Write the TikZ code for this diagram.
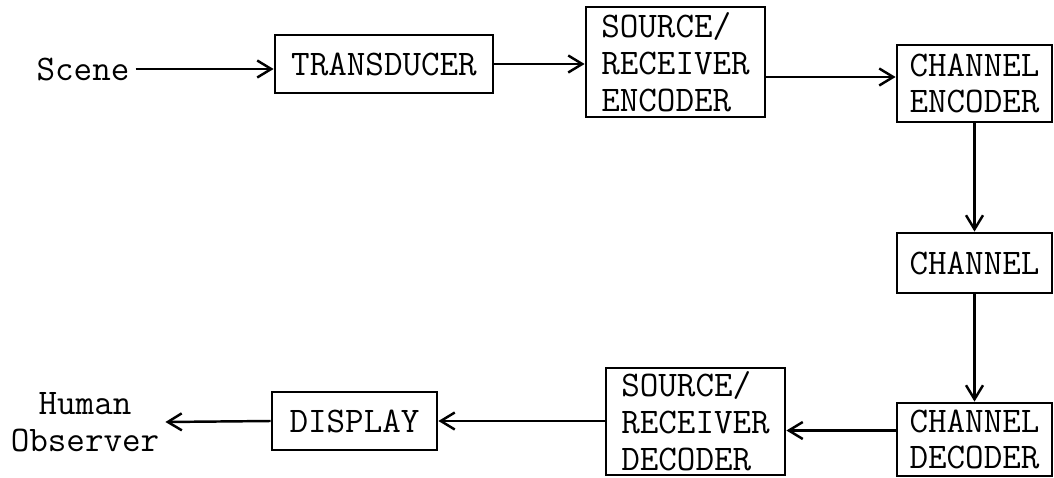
\documentclass[tikz,border=0pt]{standalone}
\usepackage{tikz}
\usetikzlibrary{arrows.meta,positioning,calc}

\begin{document}
\begin{tikzpicture}[
    font=\ttfamily\fontsize{20.5}{21}\selectfont,
    block/.style={draw,line width=1.6pt,align=left,inner sep=2pt,minimum width=#1},
    flow/.style={line width=1.4pt,-{Straight Barb[length=2.8mm,width=3.4mm,line width=1.4pt]}}
]
    \useasboundingbox (0,0) rectangle (21.08,-9.56);
    % upper row
    \node (scene) at (1.66,-1.38) {Scene};
    \node[block=4.36cm,minimum height=1.16cm] (trans) at (7.68,-1.28) {TRANSDUCER};
    \node[block=3.58cm,minimum height=2.2cm] (srcenc) at (13.51,-1.24) {SOURCE/\\RECEIVER\\ENCODER};
    \node[block=3.1cm,minimum height=1.54cm] (chenc) at (19.49,-1.67) {CHANNEL\\ENCODER};
    % right column
    \node[block=3.1cm,minimum height=1.2cm] (chan) at (19.49,-5.26) {CHANNEL};
    \node[block=3.1cm,minimum height=1.46cm] (chdec) at (19.49,-8.79) {CHANNEL\\DECODER};
    % lower row
    \node[block=3.58cm,minimum height=2.14cm] (srcdec) at (13.91,-8.43) {SOURCE/\\RECEIVER\\DECODER};
    \node[block=3.3cm,minimum height=1.16cm] (disp) at (7.09,-8.42) {DISPLAY};
    \node[align=center] (obs) at (1.7,-8.44) {Human\\Observer};

    \draw[flow] (scene.east) -- (scene.east -| trans.west);
    \draw[flow] (trans.east) -- (trans.east -| srcenc.west);
    \draw[flow] ([yshift=-0.3cm]srcenc.east) -- ([yshift=-0.3cm]srcenc.east -| chenc.west);
    \draw[flow] (chenc) -- (chan);
    \draw[flow] (chan) -- (chdec);
    \draw[flow] ([yshift=0.18cm]chdec.west) -- ([yshift=0.18cm]chdec.west -| srcdec.east);
    \draw[flow] (srcdec.west |- disp.east) -- (disp.east);
    \draw[flow] (disp.west) -- (obs.east);
\end{tikzpicture}
\end{document}
